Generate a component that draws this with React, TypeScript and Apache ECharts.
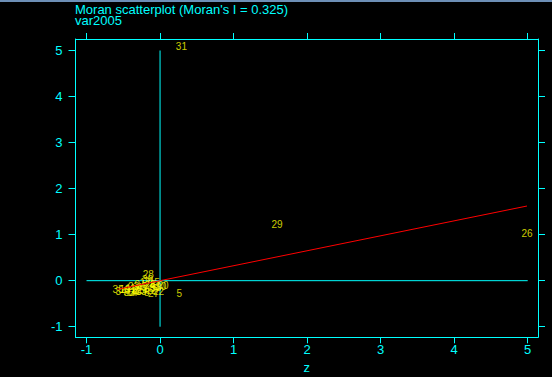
import React, { useEffect, useRef } from "react";
import * as echarts from "echarts";

const titleLines = ["Moran scatterplot (Moran's I = 0.325)", "var2005"];
const moranI = 0.325;
const xTicks = [-1, 0, 1, 2, 3, 4, 5];
const yTicks = [-1, 0, 1, 2, 3, 4, 5];
const xRange = [-1.15, 5.14];
const yRange = [-1.23, 5.25];
const refSpan = [-1, 5];

const pointLabels = [
  "31", "29", "26", "5", "28", "34", "35",
  "1", "2", "3", "4", "6", "7", "8", "9", "10", "11", "12", "13", "14", "15",
  "16", "17", "18", "19", "20", "21", "22", "23", "24", "25", "27", "30", "32", "33",
];
const zValues = [
  0.29, 1.59, 4.99, 0.26, -0.16, -0.53, -0.57,
  -0.22, -0.35, -0.1, -0.28, -0.45, -0.05, -0.18, -0.31, 0.01, -0.4, -0.12, -0.26, -0.38, -0.08,
  -0.33, -0.2, -0.15, -0.48, 0.04, -0.24, -0.02, -0.36, -0.14, -0.29, -0.09, -0.17, -0.42, -0.06,
];
const wzValues = [
  5.09, 1.22, 1.02, -0.28, 0.14, -0.23, -0.2,
  -0.12, -0.2, -0.08, -0.15, -0.22, -0.18, -0.25, -0.09, -0.13, -0.17, -0.21, -0.24, -0.26, -0.03,
  -0.24, -0.05, -0.16, -0.19, -0.1, -0.19, -0.24, -0.12, -0.11, -0.21, -0.27, 0.03, -0.25, -0.14,
];

const CYAN = "#00ffff";
const FONT = "Liberation Sans, Arial, sans-serif";

export default function App() {
  const ref = useRef<HTMLDivElement>(null);
  useEffect(() => {
    document.body.style.margin = "0";
    document.body.style.background = "#000";
    const chart = echarts.init(ref.current!, null, { renderer: "svg" });
    const pts = pointLabels.map((n, i) => ({ name: n, value: [zValues[i], wzValues[i]] }));
    const minX = Math.min(...zValues);
    const maxX = Math.max(...zValues);
    const axisCommon = {
      type: "value" as const,
      splitLine: { show: false },
      axisLine: { show: true, onZero: false, lineStyle: { color: CYAN, width: 1 } },
    };
    chart.setOption({
      animation: false,
      backgroundColor: "#000",
      title: {
        text: titleLines.join("\n"),
        left: 75,
        top: 4,
        padding: 0,
        textStyle: { color: CYAN, fontSize: 13, lineHeight: 11, fontWeight: "normal", fontFamily: FONT },
      },
      graphic: [
        { type: "rect", shape: { x: 0, y: 0, width: 552, height: 2 }, style: { fill: "#6d8fb6" } },
      ],
      grid: { left: 75.5, right: 14, top: 39, bottom: 39.7, containLabel: false, outerBoundsMode: "none" },
      xAxis: [
        {
          ...axisCommon,
          position: "bottom",
          min: xRange[0],
          max: xRange[1],
          axisTick: { show: true, customValues: xTicks, length: 6, lineStyle: { color: CYAN } },
          axisLabel: { customValues: xTicks, color: CYAN, fontSize: 13, margin: 6, fontFamily: FONT },
          name: "z",
          nameLocation: "middle",
          nameGap: 24,
          nameTextStyle: { color: CYAN, fontSize: 13, fontFamily: FONT },
        },
        {
          ...axisCommon,
          position: "top",
          min: xRange[0],
          max: xRange[1],
          axisTick: { show: true, customValues: xTicks, length: 6, lineStyle: { color: CYAN } },
          axisLabel: { show: false },
        },
      ],
      yAxis: [
        {
          ...axisCommon,
          position: "left",
          min: yRange[0],
          max: yRange[1],
          axisTick: { show: true, customValues: yTicks, length: 7, lineStyle: { color: CYAN } },
          axisLabel: { customValues: yTicks, color: CYAN, fontSize: 13, margin: 13, fontFamily: FONT },
          name: "Wz",
          nameLocation: "middle",
          nameRotate: 90,
          nameGap: 80,
          nameTextStyle: { color: CYAN, fontSize: 13, fontFamily: FONT },
        },
        {
          ...axisCommon,
          position: "right",
          min: yRange[0],
          max: yRange[1],
          axisTick: { show: true, customValues: yTicks, length: 7, lineStyle: { color: CYAN } },
          axisLabel: { show: false },
        },
      ],
      series: [
        {
          type: "line",
          data: [[refSpan[0], 0], [refSpan[1], 0]],
          symbol: "none",
          lineStyle: { color: CYAN, width: 1 },
          z: 1,
        },
        {
          type: "line",
          data: [[0, refSpan[0]], [0, refSpan[1]]],
          symbol: "none",
          lineStyle: { color: CYAN, width: 1 },
          z: 1,
        },
        {
          type: "scatter",
          data: pts,
          symbol: "circle",
          symbolSize: 1,
          itemStyle: { color: "rgba(0,0,0,0)" },
          label: {
            show: true,
            position: "inside",
            formatter: "{b}",
            color: "#ffff00",
            fontSize: 10,
            fontFamily: FONT,
          },
          z: 2,
        },
        {
          type: "line",
          data: [[minX, moranI * minX], [maxX, moranI * maxX]],
          symbol: "none",
          lineStyle: { color: "#ff0000", width: 1 },
          z: 3,
        },
      ],
    });
    return () => chart.dispose();
  }, []);
  return <div ref={ref} style={{ width: 552, height: 377 }} />;
}
